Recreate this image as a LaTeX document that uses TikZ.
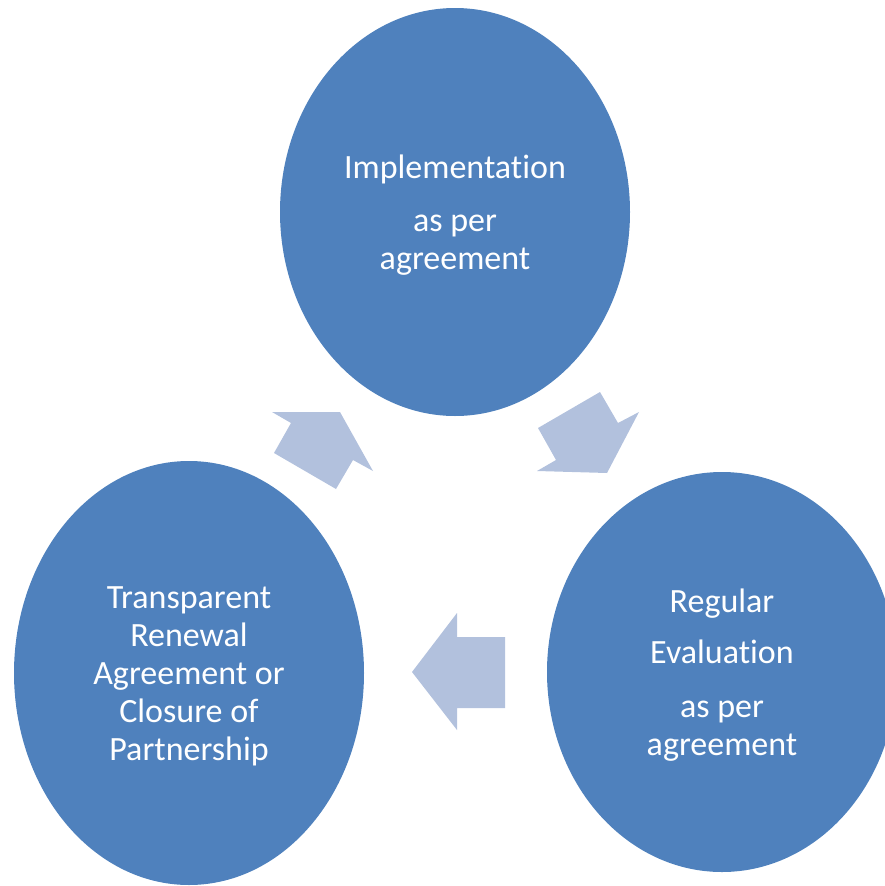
\documentclass[tikz,border=0pt]{standalone}
\usepackage{fontspec}
\setmainfont{Carlito}[Ligatures=NoCommon]
\usetikzlibrary{shapes.geometric}
\definecolor{ellblue}{HTML}{4F81BD}
\definecolor{arrblue}{HTML}{B2C1DD}
\tikzset{
  stage/.style={ellipse, fill=ellblue, draw=none, inner sep=0pt, text=white,
    align=center, font=\fontsize{34}{38}\selectfont},
  blockarrow/.style={fill=arrblue, draw=none}
}
\begin{document}
\begin{tikzpicture}[x=1pt,y=-1pt]
\useasboundingbox (0,0) rectangle (885,886);
\clip (0,0) rectangle (885,886);
\node[stage, minimum width=350pt, minimum height=408pt] (impl) at (455,212)
  {\rule{0pt}{30pt}Implementation\\[15pt]as per\\agreement};
\node[stage, minimum width=350pt, minimum height=400pt] (eval) at (722,672)
  {\rule{0pt}{30pt}Regular\\[13pt]Evaluation\\[16pt]as per\\agreement};
\node[stage, minimum width=350pt, minimum height=424pt] (renew) at (189,673)
  {\rule{0pt}{28pt}Transparent\\Renewal\\Agreement or\\Closure of\\Partnership};
% arrow from Implementation to Evaluation (down-right)
\fill[blockarrow] (538,428) -- (600,392) -- (618,423) -- (639,412) -- (607,473) -- (537,471) -- (556,460) -- cycle;
% arrow from Evaluation to Renewal (left)
\fill[blockarrow] (412,672) -- (457,613) -- (457,637) -- (505,637) -- (505,708) -- (457,708) -- (457,730) -- cycle;
% arrow from Renewal to Implementation (up-right)
\fill[blockarrow] (340,412) -- (373,471) -- (353,460) -- (336,489) -- (274,453) -- (291,423) -- (272,412) -- cycle;
\end{tikzpicture}
\end{document}
